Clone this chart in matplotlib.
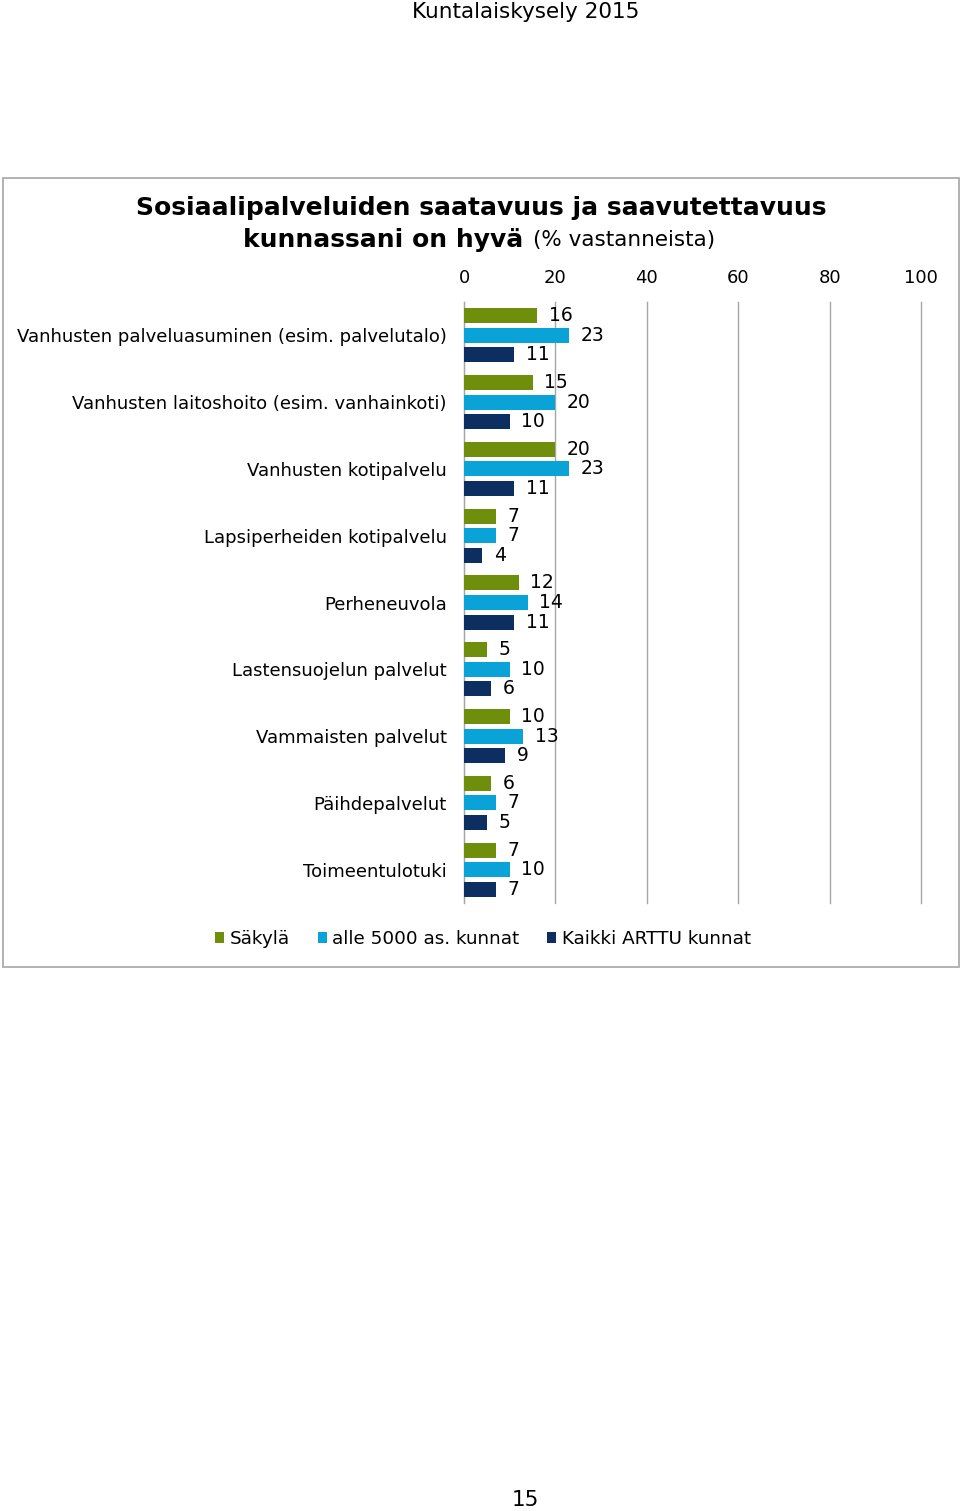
import numpy as np
import matplotlib.pyplot as plt
from matplotlib.patches import Rectangle

categories = ["Vanhusten palveluasuminen (esim. palvelutalo)",
              "Vanhusten laitoshoito (esim. vanhainkoti)",
              "Vanhusten kotipalvelu",
              "Lapsiperheiden kotipalvelu",
              "Perheneuvola",
              "Lastensuojelun palvelut",
              "Vammaisten palvelut",
              "Päihdepalvelut",
              "Toimeentulotuki"]
sakyla = [16, 15, 20, 7, 12, 5, 10, 6, 7]
alle5000 = [23, 20, 23, 7, 14, 10, 13, 7, 10]
arttu = [11, 10, 11, 4, 11, 6, 9, 5, 7]
series_names = ["Säkylä", "alle 5000 as. kunnat", "Kaikki ARTTU kunnat"]
colors = ["#6E8E0C", "#0AA3D8", "#0D2E61"]

W, H = 960, 1511
fig = plt.figure(figsize=(W / 100, H / 100), dpi=100)

def fx(px):
    return px / W

def fy(py):
    return 1 - py / H

# page texts
fig.text(fx(526), fy(12), "Kuntalaiskysely 2015", ha="center", va="center", fontsize=15.5)
fig.text(fx(525), fy(1500), "15", ha="center", va="center", fontsize=15.5)

# chart frame
fig.patches.append(Rectangle((fx(3), fy(967)), fx(956), (967 - 178) / H,
                             transform=fig.transFigure, fill=False,
                             edgecolor="#A6A6A6", linewidth=1.2))

# title
fig.text(fx(481), fy(208), "Sosiaalipalveluiden saatavuus ja saavutettavuus",
         ha="center", va="center", fontsize=18, fontweight="bold")
fig.text(fx(243), fy(240), "kunnassani on hyvä", ha="left", va="center",
         fontsize=18, fontweight="bold")
fig.text(fx(533), fy(240), "(% vastanneista)", ha="left", va="center", fontsize=15.5)

ax = fig.add_axes([fx(464), fy(903), fx(921) - fx(464), (903 - 302) / H])
y = np.arange(len(categories))
h = 0.225
off = 0.293
for k, vals in enumerate([sakyla, alle5000, arttu]):
    yy = y + (k - 1) * off
    ax.barh(yy, vals, height=h, color=colors[k], label=series_names[k], zorder=3)
    for yi, v in zip(yy, vals):
        ax.text(v + 2.5, yi, str(v), va="center", ha="left", fontsize=13.5, zorder=4)

ax.set_xlim(0, 100)
ax.set_ylim(len(categories) - 0.5, -0.5)
ax.set_xticks(range(0, 101, 20))
ax.xaxis.tick_top()
ax.tick_params(axis="x", length=0, labelsize=13, pad=10.5)
ax.set_yticks(y)
ax.set_yticklabels(categories, fontsize=13)
ax.tick_params(axis="y", length=0, pad=12.5)
for s in ["top", "right", "bottom"]:
    ax.spines[s].set_visible(False)
ax.spines["left"].set_color("#A6A6A6")
ax.grid(axis="x", color="#A6A6A6", linewidth=1)
for gl in ax.get_xgridlines():
    gl.set_clip_on(False)
ax.set_axisbelow(True)

handles, labels = ax.get_legend_handles_labels()
fig.legend(handles, labels, loc="center", bbox_to_anchor=(fx(483), fy(939)),
           ncol=3, frameon=False, fontsize=13.2, handlelength=0.5, handleheight=0.5,
           handletextpad=0.3, columnspacing=1.5)

fig.savefig("out.png", dpi=100)
